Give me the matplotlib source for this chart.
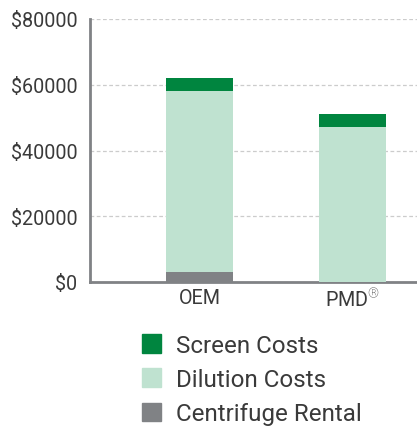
import numpy as np
import matplotlib
matplotlib.use("Agg")
import matplotlib.pyplot as plt
from matplotlib.patches import Patch

plt.rcParams['font.family'] = ['Roboto', 'DejaVu Sans']
plt.rcParams['mathtext.fontset'] = 'custom'
plt.rcParams['mathtext.rm'] = 'Roboto:light'

categories = ['OEM', r'PMD$^{\mathrm{®}}$']
centrifuge = [3000, 0]
dilution = [55000, 47000]
screen = [4000, 4000]
y_ticks = [0, 20000, 40000, 60000, 80000]
y_labels = ['$0', '$20000', '$40000', '$60000', '$80000']

c_screen = '#00853f'
c_dilution = '#bfe2d0'
c_centrifuge = '#808285'
txt = '#3a3a3a'

fig = plt.figure(figsize=(4.17, 4.31), dpi=100)
ax = fig.add_axes([90 / 417, (431 - 283) / 431, 327 / 417, 263 / 431])

x = np.arange(len(categories))
w = 0.44
ax.bar(x, centrifuge, w, color=c_centrifuge, zorder=3)
ax.bar(x, dilution, w, bottom=centrifuge, color=c_dilution, zorder=3)
bottom2 = np.array(centrifuge) + np.array(dilution)
ax.bar(x, screen, w, bottom=bottom2, color=c_screen, zorder=3)

ax.set_xlim(-0.716, 1.42)
ax.set_ylim(0, 80000)
ax.set_yticks(y_ticks)
ax.set_yticklabels(y_labels)
ax.set_xticks(x)
ax.set_xticklabels(categories)
ax.tick_params(length=0, labelsize=14.2, colors=txt, pad=9)
ax.tick_params(axis='x', pad=4)

ax.grid(axis='y', linestyle=(0, (3, 2)), color='#cccccc', linewidth=0.9, zorder=0)
for s in ['top', 'right']:
    ax.spines[s].set_visible(False)
for s in ['left', 'bottom']:
    ax.spines[s].set_color('#808285')
    ax.spines[s].set_linewidth(2)

handles = [Patch(color=c_screen, label='Screen Costs'),
           Patch(color=c_dilution, label='Dilution Costs'),
           Patch(color=c_centrifuge, label='Centrifuge Rental')]
leg = fig.legend(handles=handles, loc='upper left', bbox_to_anchor=(132 / 417, 1 - 325 / 431),
                 frameon=False, fontsize=17.4, handlelength=0.82, handleheight=0.82,
                 handletextpad=0.58, labelspacing=0.47, borderaxespad=0)
for t in leg.get_texts():
    t.set_color(txt)

fig.savefig('out.png', dpi=100)
